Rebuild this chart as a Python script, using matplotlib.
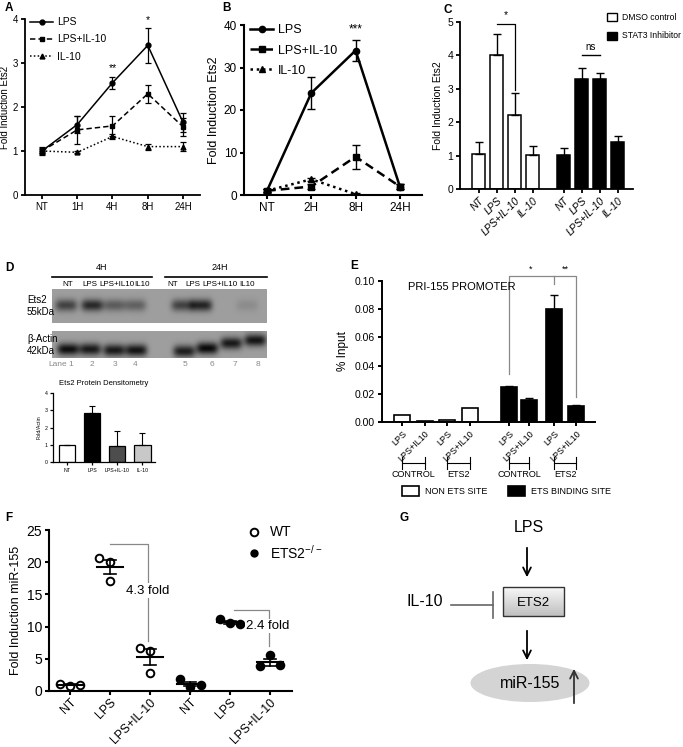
import numpy as np
import matplotlib
matplotlib.use('Agg')
import matplotlib.pyplot as plt
from matplotlib.patches import Rectangle, Ellipse
import matplotlib.transforms as mtransforms

plt.rcParams['font.family'] = ['Liberation Sans', 'DejaVu Sans']
plt.rcParams['mathtext.default'] = 'regular'

# ---------------- data ----------------
timesA = ['NT', '1H', '4H', '8H', '24H']
a_lps = [1.0, 1.6, 2.55, 3.4, 1.65]
a_lps_err = [0.1, 0.2, 0.13, 0.4, 0.22]
a_lpsil = [1.0, 1.48, 1.57, 2.3, 1.55]
a_lpsil_err = [0.07, 0.32, 0.23, 0.2, 0.2]
a_il = [1.0, 0.97, 1.33, 1.1, 1.1]
a_il_err = [0.05, 0.02, 0.06, 0.07, 0.1]

timesB = ['NT', '2H', '8H', '24H']
b_lps = [1.0, 24.0, 34.0, 2.0]
b_lps_err = [0.5, 3.8, 2.5, 0.5]
b_lpsil = [1.0, 2.0, 9.0, 2.0]
b_lpsil_err = [0.3, 0.5, 2.8, 0.5]
b_il = [1.0, 3.7, 0.2, np.nan]
b_il_err = [0.3, 0.3, 0.3, np.nan]

c_labels = ['NT', 'LPS', 'LPS+IL-10', 'IL-10']
c_dmso = [1.05, 4.02, 2.22, 1.03]
c_dmso_err = [0.35, 0.62, 0.65, 0.27]
c_stat3 = [1.03, 3.3, 3.3, 1.42]
c_stat3_err = [0.2, 0.33, 0.17, 0.18]

d_lane_labels = ['NT', 'LPS', 'LPS+IL10', 'IL10', 'NT', 'LPS', 'LPS+IL10', 'IL10']
d_ets2_band = [0.36, 0.46, 0.26, 0.24, 0.36, 0.48, 0.0, 0.07]
d_actin_band = [0.56, 0.52, 0.52, 0.54, 0.5, 0.58, 0.52, 0.54]
d_labels = ['NT', 'LPS', 'LPS+IL-10', 'IL-10']
d_vals = [1.0, 2.85, 0.9, 0.97]
d_err = [0.0, 0.38, 0.9, 0.72]

e_labels = ['LPS', 'LPS+IL10'] * 4
e_groups = ['CONTROL', 'ETS2', 'CONTROL', 'ETS2']
e_nonets = [0.005, 0.0008, 0.0015, 0.010]
e_ets = [0.025, 0.0155, 0.080, 0.011]
e_ets_err = [0.0005, 0.0012, 0.010, 0.001]

f_labels = ['NT', 'LPS', 'LPS+IL-10', 'NT', 'LPS', 'LPS+IL-10']
f_wt = [[1.05, 0.8, 1.0], [20.6, 20.1, 17.1], [6.7, 6.2, 2.8]]
f_ko = [[1.8, 0.6, 0.95], [11.15, 10.5, 10.45], [5.55, 3.9, 4.0]]
f_wt_off = [[-0.25, 0.0, 0.25], [-0.27, 0.0, 0.0], [-0.25, 0.0, 0.0]]
f_ko_off = [[-0.25, 0.0, 0.27], [-0.25, 0.0, 0.25], [0.0, -0.25, 0.25]]

# ---------------- figure ----------------
W, H = 683, 747
fig = plt.figure(figsize=(W / 100, H / 100), dpi=100)

ov = fig.add_axes([0, 0, 1, 1])
ov.set_xlim(0, W)
ov.set_ylim(H, 0)
ov.axis('off')


def ax_px(l, t, r, b):
    return fig.add_axes([l / W, 1 - b / H, (r - l) / W, (b - t) / H])


def style(ax, lw=1.3, fs=7):
    for s in ['top', 'right']:
        ax.spines[s].set_visible(False)
    for s in ['left', 'bottom']:
        ax.spines[s].set_linewidth(lw)
    ax.tick_params(width=lw, length=3, labelsize=fs, direction='out', pad=2)
    ax.set_facecolor('none')


for letter, (x, y) in {'A': (5, 8), 'B': (222, 8), 'C': (443, 10), 'D': (5, 268),
                       'E': (350, 266), 'F': (5, 518), 'G': (400, 518)}.items():
    ov.text(x, y, letter, fontsize=8.5, fontweight='bold', va='center', ha='left')

# ---------------- Panel A ----------------
axA = ax_px(25, 19, 200, 195)
style(axA)
xa = np.arange(len(timesA))
for vals, err, fmt, ls, lab in [(a_lps, a_lps_err, 'o', '-', 'LPS'),
                                (a_lpsil, a_lpsil_err, 's', (0, (3.5, 2)), 'LPS+IL-10'),
                                (a_il, a_il_err, '^', (0, (1, 1.5)), 'IL-10')]:
    axA.errorbar(xa, vals, yerr=err, fmt='none', ecolor='k', elinewidth=0.9, capsize=2.5, capthick=0.9)
    axA.plot(xa, vals, marker=fmt, linestyle=ls, color='k', lw=1.1, ms=3.5, label=lab)
axA.set_xlim(-0.48, 4.48)
axA.set_ylim(0, 4)
axA.set_yticks([0, 1, 2, 3, 4])
axA.set_xticks(xa)
axA.set_xticklabels(timesA)
axA.set_ylabel('Fold Induction Ets2', fontsize=7, labelpad=2)
axA.legend(loc='upper left', bbox_to_anchor=(0.0, 1.04), frameon=False, fontsize=7.5,
           handlelength=2.2, labelspacing=0.7, borderaxespad=0.1, handletextpad=0.4)
axA.text(2, 2.88, '**', ha='center', va='center', fontsize=7.5)
axA.text(3, 3.98, '*', ha='center', va='center', fontsize=7.5)

# ---------------- Panel B ----------------
axB = ax_px(244, 25, 422, 195)
style(axB, lw=1.5, fs=8.5)
xb = np.arange(len(timesB))
for vals, err, fmt, ls, lab in [(b_lps, b_lps_err, 'o', '-', 'LPS'),
                                (b_lpsil, b_lpsil_err, 's', (0, (3.5, 2)), 'LPS+IL-10'),
                                (b_il, b_il_err, '^', (0, (1, 1.5)), 'IL-10')]:
    axB.errorbar(xb, vals, yerr=err, fmt='none', ecolor='k', elinewidth=1.0, capsize=3, capthick=1.0)
    axB.plot(xb, vals, marker=fmt, linestyle=ls, color='k', lw=1.8, ms=4.5, label=lab)
axB.set_xlim(-0.52, 3.5)
axB.set_ylim(0, 40)
axB.set_yticks([0, 10, 20, 30, 40])
axB.set_xticks(xb)
axB.set_xticklabels(timesB)
axB.set_ylabel('Fold Induction Ets2', fontsize=9, labelpad=3)
axB.legend(loc='upper left', bbox_to_anchor=(0.0, 1.04), frameon=False, fontsize=9,
           handlelength=1.8, labelspacing=0.65, borderaxespad=0.1, handletextpad=0.4)
axB.text(2, 39.0, '***', ha='center', va='center', fontsize=8.5)

# ---------------- Panel C ----------------
axC = ax_px(460, 22, 633, 189)
style(axC, lw=1.3, fs=7.5)
pos1 = np.arange(4)
pos2 = np.arange(4) + 4.7
bw = 0.72
axC.bar(pos1, c_dmso, width=bw, color='white', edgecolor='k', lw=1.1,
        yerr=[np.zeros(4), c_dmso_err], capsize=3, error_kw=dict(elinewidth=1, capthick=1))
axC.bar(pos2, c_stat3, width=bw, color='black', edgecolor='k', lw=1.1,
        yerr=[np.zeros(4), c_stat3_err], capsize=3, error_kw=dict(elinewidth=1, capthick=1))
axC.set_xlim(-1.05, 8.55)
axC.set_ylim(0, 5)
axC.set_yticks([0, 1, 2, 3, 4, 5])
axC.set_xticks(np.concatenate([pos1, pos2]))
axC.set_xticklabels(c_labels * 2, rotation=45, ha='right', rotation_mode='anchor',
                    fontsize=7.5, style='italic')
axC.set_ylabel('Fold Induction Ets2', fontsize=7.5, labelpad=3)
axC.plot([pos1[1], pos1[2], pos1[2]], [4.95, 4.95, 2.95], color='k', lw=0.9, clip_on=False)
axC.text(1.5, 5.05, '*', ha='center', va='bottom', fontsize=7.5)
axC.plot([pos2[1], pos2[2]], [4.0, 4.0], color='k', lw=1.0)
axC.text((pos2[1] + pos2[2]) / 2, 4.1, 'ns', ha='center', va='bottom', fontsize=7)
# legend
ov.add_patch(Rectangle((607, 13), 10, 8, facecolor='white', edgecolor='k', lw=1))
ov.add_patch(Rectangle((607, 32), 10, 8, facecolor='black', edgecolor='k', lw=1))
ov.text(622, 17, 'DMSO control', fontsize=6.2, va='center')
ov.text(622, 36, 'STAT3 Inhibitor', fontsize=6.2, va='center')

# ---------------- Panel D (blot) ----------------
lane_lbl_x = [68, 90, 117, 142, 173, 193, 220, 247]
ets2_x = [66, 92, 114, 135, 182, 201, 225, 247]
actin_x = [68, 90, 114, 136, 184, 207, 231, 255]
actin_y = [349, 349, 350, 350, 351, 348, 343, 340]
lane_num_x = [71, 92, 115, 135, 185, 212, 235, 258]


def blot(x0, x1, y0, y1, bx, by, inten, bg, sx, sy):
    xs = np.arange(x0, x1, 0.5)
    ys = np.arange(y0, y1, 0.5)
    X, Y = np.meshgrid(xs, ys)
    img = np.full(X.shape, bg)
    for cx, cy, a in zip(bx, by, inten):
        img -= a * np.exp(-((X - cx) / sx) ** 4 - ((Y - cy) / sy) ** 2)
    img = np.clip(img, 0, 1)
    ov.imshow(img, cmap='gray', vmin=0, vmax=1, extent=(x0, x1, y1, y0),
              aspect='auto', interpolation='bilinear', zorder=1)


blot(52, 267, 289, 323, ets2_x, [305] * 8, d_ets2_band, 0.62, 11, 6)
blot(52, 267, 331, 358, actin_x, actin_y, d_actin_band, 0.62, 11, 6)
ov.set_xlim(0, W)
ov.set_ylim(H, 0)
ov.plot([52, 152], [277, 277], color='k', lw=1.2)
ov.plot([165, 267], [277, 277], color='k', lw=1.2)
ov.text(102, 268, '4H', fontsize=6.5, ha='center', va='center')
ov.text(220, 268, '24H', fontsize=6.5, ha='center', va='center')
for x, t in zip(lane_lbl_x, d_lane_labels):
    ov.text(x, 285, t, fontsize=5.8, ha='center', va='center')
ov.text(27, 306, 'Ets2\n55kDa', fontsize=7, ha='left', va='center', linespacing=1.3, zorder=3)
ov.text(27, 345, 'β-Actin\n42kDa', fontsize=7, ha='left', va='center', linespacing=1.3, zorder=3)
ov.text(58, 364, 'Lane', fontsize=6, color='#888888', ha='center', va='center')
for i, x in enumerate(lane_num_x):
    ov.text(x, 364, str(i + 1), fontsize=6, color='#888888', ha='center', va='center')

# densitometry
axD = ax_px(53, 393, 155, 462)
style(axD, lw=0.9, fs=3.8)
axD.tick_params(length=2)
xd = np.arange(4)
axD.bar(xd, d_vals, width=0.65, color=['white', 'black', '#4d4d4d', '#c8c8c8'], edgecolor='k', lw=0.9,
        yerr=[np.zeros(4), d_err], capsize=2.5, error_kw=dict(elinewidth=0.8, capthick=0.8))
axD.set_xlim(-0.55, 3.5)
axD.set_ylim(0, 4)
axD.set_yticks([0, 1, 2, 3, 4])
axD.set_xticks(xd)
axD.set_xticklabels(d_labels, fontsize=3.8)
axD.set_ylabel('Fold/Actin', fontsize=3.8, labelpad=2)
axD.set_title('Ets2 Protein Densitometry', fontsize=5.5, pad=6)

# ---------------- Panel E ----------------
axE = ax_px(382, 281, 595, 422)
style(axE, lw=1.4, fs=7.5)
pe1 = np.arange(4)
pe2 = np.array([4.75, 5.65, 6.75, 7.75])
axE.bar(pe1, e_nonets, width=0.72, color='white', edgecolor='k', lw=1.2)
axE.bar(pe2, e_ets, width=0.72, color='black', edgecolor='k', lw=1.2,
        yerr=[np.zeros(4), e_ets_err], capsize=3, error_kw=dict(elinewidth=1, capthick=1))
axE.set_xlim(-0.9, 8.58)
axE.set_ylim(0, 0.10)
axE.set_yticks([0, 0.02, 0.04, 0.06, 0.08, 0.10])
axE.set_yticklabels(['0.00', '0.02', '0.04', '0.06', '0.08', '0.10'])
axE.set_xticks(np.concatenate([pe1, pe2]))
axE.set_xticklabels(e_labels, rotation=45, ha='right', rotation_mode='anchor', fontsize=6.5)
axE.set_ylabel('% Input', fontsize=8.5, labelpad=4)
axE.text(0.12, 0.096, 'PRI-155 PROMOTER', fontsize=8, va='center', ha='left',
         transform=mtransforms.blended_transform_factory(axE.transAxes, axE.transData))
gray = '#888888'
axE.plot([pe2[0], pe2[0], pe2[3], pe2[3]], [0.034, 0.1035, 0.1035, 0.018], color=gray, lw=0.9, clip_on=False)
axE.plot([pe2[2], pe2[2]], [0.1035, 0.098], color=gray, lw=0.9, clip_on=False)
axE.text(5.72, 0.1055, '*', ha='center', va='bottom', fontsize=6.5)
axE.text(7.27, 0.1055, '**', ha='center', va='bottom', fontsize=6.5)
tr = mtransforms.blended_transform_factory(axE.transData, axE.transAxes)
allpos = np.concatenate([pe1, pe2])
for g in range(4):
    xl, xr = allpos[2 * g], allpos[2 * g + 1]
    yb = -0.29
    axE.plot([xl, xr], [yb, yb], color='k', lw=0.8, transform=tr, clip_on=False)
    axE.plot([xl, xl], [yb - 0.04, yb + 0.04], color='k', lw=0.8, transform=tr, clip_on=False)
    axE.plot([xr, xr], [yb - 0.04, yb + 0.04], color='k', lw=0.8, transform=tr, clip_on=False)
    axE.text((xl + xr) / 2, -0.375, e_groups[g], fontsize=6.5, ha='center', va='center', transform=tr)
ov.add_patch(Rectangle((402, 486), 17, 10, facecolor='white', edgecolor='k', lw=1.2))
ov.add_patch(Rectangle((508, 486), 17, 10, facecolor='black', edgecolor='k', lw=1.2))
ov.text(425, 491, 'NON ETS SITE', fontsize=6.5, va='center')
ov.text(531, 491, 'ETS BINDING SITE', fontsize=6.5, va='center')

# ---------------- Panel F ----------------
axF = ax_px(49, 530, 292, 691)
style(axF, lw=1.5, fs=10)
axF.tick_params(axis='x', pad=1, length=3)
for gi, (pts, offs) in enumerate(zip(f_wt + f_ko, f_wt_off + f_ko_off)):
    pts = np.array(pts)
    filled = gi >= 3
    xs = gi + np.array(offs)
    axF.plot(xs, pts, 'o', ms=5.5, mfc='k' if filled else 'white', mec='k', mew=1.4, zorder=3,
             clip_on=False)
    m = pts.mean()
    sem = pts.std(ddof=1) / np.sqrt(len(pts))
    axF.plot([gi - 0.33, gi + 0.33], [m, m], color='k', lw=1.5, zorder=4)
    axF.plot([gi - 0.15, gi + 0.15], [m + sem, m + sem], color='k', lw=1.2, zorder=4)
    axF.plot([gi - 0.15, gi + 0.15], [m - sem, m - sem], color='k', lw=1.2, zorder=4)
    axF.plot([gi, gi], [m - sem, m + sem], color='k', lw=1.2, zorder=4)
axF.set_xlim(-0.52, 5.55)
axF.set_ylim(0, 25)
axF.set_yticks([0, 5, 10, 15, 20, 25])
axF.set_xticks(np.arange(6))
axF.set_xticklabels(f_labels, rotation=45, ha='right', rotation_mode='anchor', fontsize=8.8)
axF.set_ylabel('Fold Induction miR-155', fontsize=9, labelpad=3)
axF.plot([1, 1.95, 1.95], [22.8, 22.8, 7.8], color=gray, lw=0.9)
axF.text(1.95, 15.6, '4.3 fold', fontsize=9.5, ha='center', va='center',
         bbox=dict(facecolor='white', edgecolor='none', pad=1))
axF.plot([4.1, 4.97, 4.97], [12.6, 12.6, 7.0], color=gray, lw=0.9)
axF.text(4.95, 10.1, '2.4 fold', fontsize=9.5, ha='center', va='center',
         bbox=dict(facecolor='white', edgecolor='none', pad=1))
ov.plot([254], [532], 'o', ms=5.5, mfc='white', mec='k', mew=1.4)
ov.plot([254], [553], 'o', ms=5, mfc='k', mec='k')
ov.text(270, 532, 'WT', fontsize=10, va='center')
ov.text(270, 553, 'ETS2$^{-/-}$', fontsize=10, va='center')

# ---------------- Panel G ----------------
ov.text(529, 527, 'LPS', fontsize=11.5, ha='center', va='center')
ov.annotate('', xy=(527, 580), xytext=(527, 545),
            arrowprops=dict(arrowstyle='->', lw=1.3, color='k', mutation_scale=14))
grad = np.linspace(0.97, 0.75, 50)[:, None] * np.ones((50, 2))
ov.imshow(grad, cmap='gray', vmin=0, vmax=1, extent=(503, 564, 616, 587), aspect='auto', zorder=2)
ov.add_patch(Rectangle((503, 587), 61, 29, facecolor='none', edgecolor='#333333', lw=1.0, zorder=3))
ov.text(533, 603, 'ETS2', fontsize=9.5, ha='center', va='center', zorder=4)
ov.text(425, 601, 'IL-10', fontsize=11.5, ha='center', va='center')
ov.plot([451, 493], [605, 605], color='#666666', lw=1.2)
ov.plot([493, 493], [592, 618], color='#666666', lw=1.2)
ov.annotate('', xy=(527, 663), xytext=(527, 628),
            arrowprops=dict(arrowstyle='->', lw=1.3, color='k', mutation_scale=14))
ov.add_patch(Ellipse((530, 683), 119, 38, facecolor='#d4d4d4', edgecolor='none', zorder=1))
ov.text(530, 684, 'miR-155', fontsize=11.5, ha='center', va='center', zorder=2)
ov.annotate('', xy=(574, 666), xytext=(574, 706),
            arrowprops=dict(arrowstyle='->', lw=1.3, color='#333333', mutation_scale=14))
ov.set_xlim(0, W)
ov.set_ylim(H, 0)

fig.savefig('out.png', dpi=100)
